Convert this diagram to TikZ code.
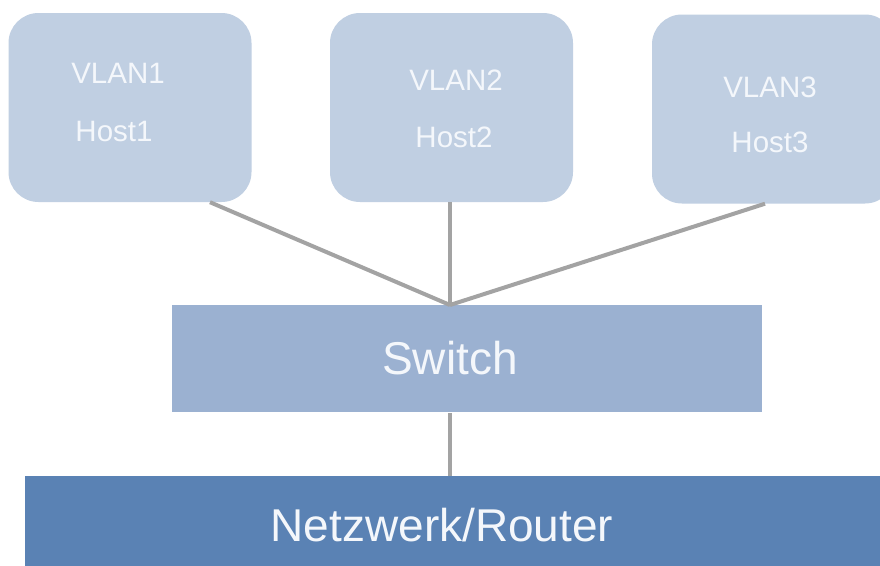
\documentclass[tikz,border=0pt]{standalone}
\usepackage{fontspec}
\setmainfont{Liberation Sans}
\definecolor{hostfill}{HTML}{C0CFE2}
\definecolor{switchfill}{HTML}{9BB1D1}
\definecolor{routerfill}{HTML}{5A82B4}
\definecolor{wire}{HTML}{A3A3A3}
\definecolor{label}{HTML}{F4F7FB}
\begin{document}
\begin{tikzpicture}[x=1pt,y=-1pt,
  hostbox/.style={fill=hostfill,draw=none,rounded corners=30pt,minimum width=243pt,minimum height=189pt,inner sep=0pt},
  hosttext/.style={text=label,font=\fontsize{29.5}{32}\selectfont,inner sep=0pt},
  switchbox/.style={fill=switchfill,draw=none,minimum width=590pt,minimum height=107pt,inner sep=0pt},
  routerbox/.style={fill=routerfill,draw=none,minimum width=880pt,minimum height=90pt,inner sep=0pt},
  bigtext/.style={text=label,font=\fontsize{46}{50}\selectfont,inner sep=0pt},
  link/.style={draw=wire,line width=4pt}]
\useasboundingbox (0,0) rectangle (880,565);
\fill[white] (0,0) rectangle (880,565);

% host boxes
\node[hostbox] (h1) at (130,107.5) {};
\node[hostbox] (h2) at (451.5,107.5) {};
\node[hostbox] (h3) at (773.5,109) {};

% switch and router
\node[switchbox] (sw) at (467,358.5) {};
\node[routerbox] (rt) at (465,521) {};
\node[bigtext] (swl) at (450,358) {Switch};
\node[bigtext] (rtl) at (442,525) {Netzwerk/Router};

% connectors to the switch
\coordinate (hub) at (450,305);
\coordinate (swb) at (450,413);
\coordinate (rtt) at (450,476);
\draw[link] ([xshift=80pt]h1.south) -- (hub);
\draw[link] ([xshift=-1.5pt]h2.south) -- (hub);
\draw[link] ([xshift=-8.5pt]h3.south) -- (hub);
\draw[link] (swb) -- (rtt);

% host labels
\node[hosttext] (t1a) at (118,73) {VLAN1};
\node[hosttext] (t1b) at (114,131) {Host1};
\node[hosttext] (t2a) at (456,80) {VLAN2};
\node[hosttext] (t2b) at (454,137) {Host2};
\node[hosttext] (t3a) at (770,87) {VLAN3};
\node[hosttext] (t3b) at (770,142) {Host3};
\end{tikzpicture}
\end{document}
